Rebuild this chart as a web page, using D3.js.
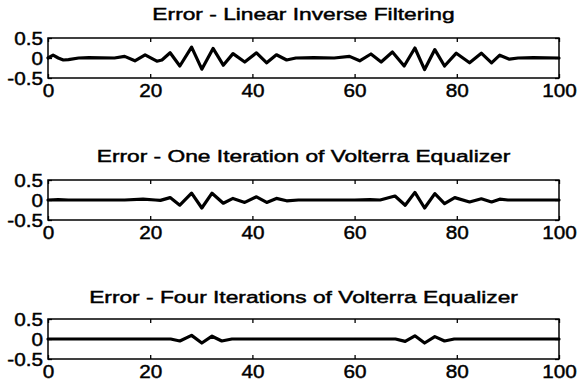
<!DOCTYPE html>
<html>
<head>
<meta charset="utf-8">
<script src="https://cdn.jsdelivr.net/npm/d3@7"></script>
<style>
  html, body { margin: 0; padding: 0; background: #fff; }
  svg { display: block; }
  text { font-family: "Liberation Sans", Arial, Helvetica, sans-serif; fill: #000; stroke: #000; stroke-width: 0.45px; }
</style>
</head>
<body>
<svg id="chart" width="577" height="387"></svg>
<script>
// ---- Data ----
const titles = [
  "Error - Linear Inverse Filtering",
  "Error - One Iteration of Volterra Equalizer",
  "Error - Four Iterations of Volterra Equalizer"
];

const linearX = [0,1,2,3,4,6,8,13,15,17,19,21.3,22.3,23.9,25.8,28.1,30.1,32.3,34.3,36.2,38.5,40.8,42.8,44.7,46.7,48.5,52,56,59,61,63.2,65.2,67.4,69.7,71.8,73.7,75.7,77.6,79.9,82.5,84.8,86.8,88.4,90.3,92,95,100];
const linearY = [0,0.07,0,-0.05,-0.04,0,0.01,0,0.04,-0.07,0.08,-0.08,-0.05,0.13,-0.2,0.27,-0.28,0.24,-0.18,0.11,-0.1,0.13,-0.12,0.08,-0.05,0,0.01,0,0.04,-0.07,0.1,-0.1,0.15,-0.2,0.25,-0.29,0.21,-0.2,0.12,-0.12,0.12,-0.12,0.07,-0.03,0,0.01,0];

const oneIterX = [0,2,4,15,18.6,21,22,23.9,25.8,28.1,30.1,32.1,34.3,36.2,38.5,40.8,42.8,44.7,46.7,49,60,63,65,67.9,69.9,71.8,73.7,75.7,77.6,79.6,82.5,84.8,86.8,88.4,90,100];
const oneIterY = [0,0.01,0,0,0.02,0,-0.01,0.06,-0.13,0.17,-0.2,0.17,-0.08,0.04,-0.06,0.08,-0.06,0.04,-0.02,0,0,0.01,0,0.1,-0.13,0.19,-0.2,0.16,-0.09,0.06,-0.05,0.03,-0.05,0.02,0,0];

const fourIterX = [0,24,25.8,28.1,30.1,32.1,34,36,68,69.9,71.8,73.7,75.7,77.6,79.5,100];
const fourIterY = [0,0,-0.05,0.09,-0.1,0.07,-0.05,0,0,-0.06,0.08,-0.1,0.06,-0.05,0,0];

const xTickValues = [0,20,40,60,80,100];
const xTickLabels = ["0","20","40","60","80","100"];
const yTickValues = [-0.5,0,0.5];
const yTickLabels = ["-0.5","0","0.5"];

const seriesX = [linearX, oneIterX, fourIterX];
const seriesY = [linearY, oneIterY, fourIterY];

// ---- Layout ----
const svg = d3.select("#chart");
const left = 48, right = 559, plotH = 40;
const tops = [38, 180, 319];
const titleBase = [19.5, 161.5, 303];
const sxTitle = 1.34; // horizontal stretch of the scanned text
const sxTick = 1.12;

const x = d3.scaleLinear().domain([0, 100]).range([left, right]);

seriesX.forEach((xs, i) => {
  const top = tops[i];
  const y = d3.scaleLinear().domain([-0.5, 0.5]).range([top + plotH, top]);
  const g = svg.append("g");

  // title
  g.append("text")
    .attr("transform", `translate(${(left + right) / 2},${titleBase[i]}) scale(${sxTitle},1)`)
    .attr("text-anchor", "middle")
    .style("font-size", "17px")
    .text(titles[i]);

  // bottom axis with labels
  const bottom = g.append("g").attr("transform", `translate(0,${top + plotH})`)
    .call(d3.axisBottom(x).tickValues(xTickValues)
      .tickFormat((d, k) => xTickLabels[k]).tickSizeInner(-4).tickSizeOuter(0));
  bottom.select(".domain").remove();
  bottom.selectAll("line").attr("stroke", "#000").attr("stroke-width", 1.3);
  bottom.selectAll("text")
    .attr("y", 19).attr("dy", 0)
    .attr("transform", `scale(${sxTick},1)`)
    .attr("fill", "#000")
    .style("font-size", "18.5px").attr("font-family", null);

  // top axis ticks
  const topAx = g.append("g").attr("transform", `translate(0,${top})`)
    .call(d3.axisTop(x).tickValues(xTickValues).tickFormat("").tickSizeInner(-4).tickSizeOuter(0));
  topAx.select(".domain").remove();
  topAx.selectAll("line").attr("stroke", "#000").attr("stroke-width", 1.3);

  // left axis with labels
  const leftAx = g.append("g").attr("transform", `translate(${left},0)`)
    .call(d3.axisLeft(y).tickValues(yTickValues)
      .tickFormat((d, k) => yTickLabels[k]).tickSizeInner(-4).tickSizeOuter(0));
  leftAx.select(".domain").remove();
  leftAx.selectAll("line").attr("stroke", "#000").attr("stroke-width", 1.3);
  leftAx.selectAll("text")
    .attr("x", -5 / sxTick).attr("dy", "0.36em")
    .attr("transform", `scale(${sxTick},1)`)
    .attr("fill", "#000")
    .style("font-size", "18.5px").attr("font-family", null);

  // right axis ticks
  const rightAx = g.append("g").attr("transform", `translate(${right},0)`)
    .call(d3.axisRight(y).tickValues(yTickValues).tickFormat("").tickSizeInner(-4).tickSizeOuter(0));
  rightAx.select(".domain").remove();
  rightAx.selectAll("line").attr("stroke", "#000").attr("stroke-width", 1.3);

  // box
  g.append("rect")
    .attr("x", x(0)).attr("y", y(0.5))
    .attr("width", x(100) - x(0)).attr("height", y(-0.5) - y(0.5))
    .attr("fill", "none").attr("stroke", "#000").attr("stroke-width", 1.5);

  // series line
  const pts = xs.map((v, k) => [v, seriesY[i][k]]);
  g.append("path")
    .datum(pts)
    .attr("fill", "none")
    .attr("stroke", "#000")
    .attr("stroke-width", 3.2)
    .attr("stroke-linejoin", "round")
    .attr("stroke-linecap", "round")
    .attr("d", d3.line().x(d => x(d[0])).y(d => y(d[1])));
});
</script>
</body>
</html>
